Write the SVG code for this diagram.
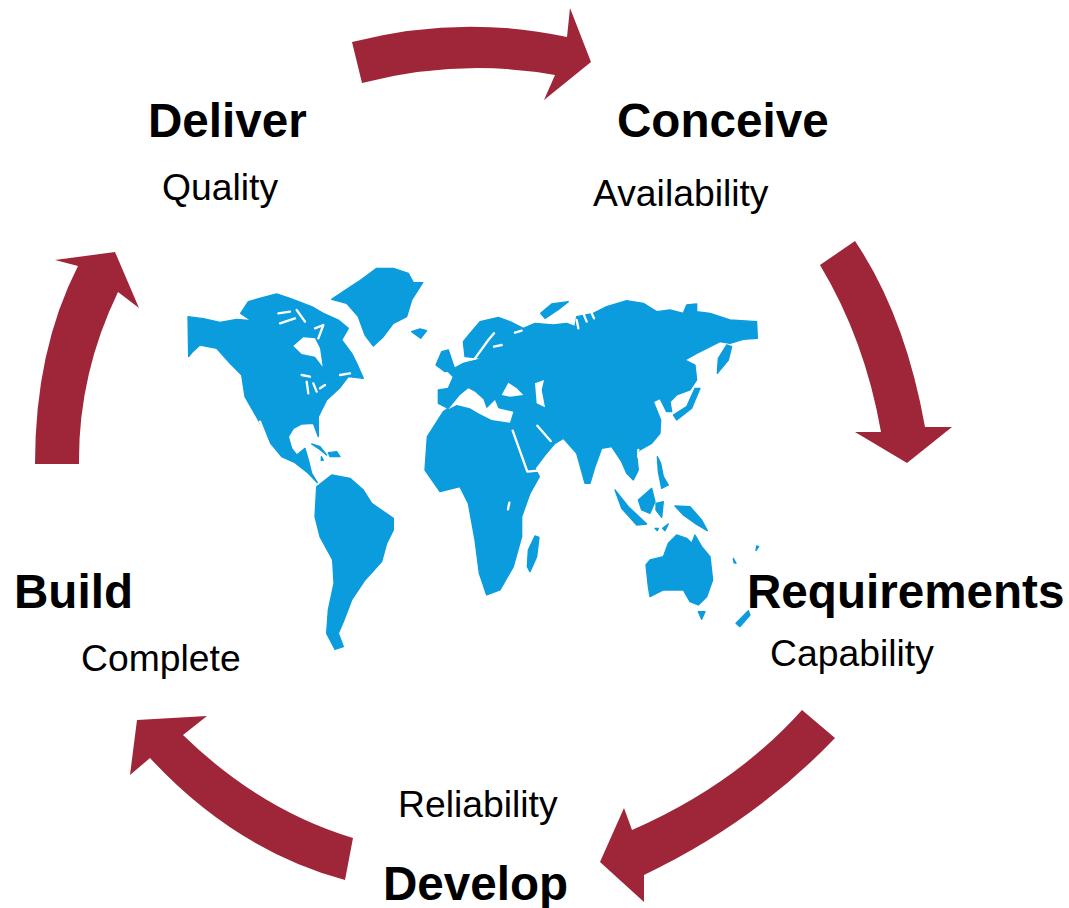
<svg xmlns="http://www.w3.org/2000/svg" width="1069" height="908" viewBox="0 0 1069 908">
<style>
.h{font-family:"Liberation Sans",Arial,sans-serif;font-size:47.6px;font-weight:700;fill:#000}
.s{font-family:"Liberation Sans",Arial,sans-serif;font-size:37.3px;fill:#000}
.a{fill:#9e2638}
.m{fill:#0b9cdd;stroke:#0b9cdd;stroke-width:4;stroke-linejoin:round}
.w{fill:#fff}
.l{fill:none;stroke:#fff;stroke-width:7;stroke-linecap:round;stroke-linejoin:round}
</style>
<rect width="1069" height="908" fill="#fff"/>
<g id="map">
<g transform="translate(180 260) scale(.33333)">
<path class="m" d="M24 170L70 176L120 187L170 178L215 182L182 160L205 125L250 112L290 102L330 115L395 140L430 160L475 180L505 205L485 240L515 280L530 310L550 355L505 350L478 385L440 420L415 470L415 530L400 490L365 492L340 505L325 530L335 565L350 585L375 565L385 600L395 640L412 668L385 640L345 608L305 590L272 550L235 480L195 410L185 345L150 310L110 265L60 255L38 275L26 290Z"/>
<path class="w" d="M340 258L370 232L405 235L420 265L428 320L405 290L365 282Z"/>
<path class="l" d="M295 160L330 155M300 190L345 175M350 150L375 185M405 205L430 195L415 235M365 345L390 350M380 365L385 400M400 370L410 395M420 385L435 375M480 345L510 340"/>
<path class="l" d="M240 485L265 548"/>
<path class="m" d="M455 118L500 88L535 65L590 25L640 25L685 40L700 68L728 68L695 120L680 170L640 190L610 230L580 258L555 225L535 170L500 130Z"/>
<path class="m" d="M695 215L720 207L740 212L722 235Z"/>
<path class="m" d="M395 552L420 560L440 585L415 565ZM445 578L470 575L480 590L450 590ZM424 590L430 600L424 602Z"/>
<path class="m" d="M410 680L455 645L510 655L550 690L575 730L640 775L640 810L620 850L605 905L555 960L515 1020L490 1085L475 1120L490 1160L465 1168L440 1120L445 1050L462 970L458 900L420 830L405 770Z"/>
</g>
<g transform="translate(420 280) scale(.33333)">
<path class="m" d="M48 255L65 215L85 210L105 270L75 275Z"/>
<path class="m" d="M130 185L150 160L180 125L235 112L270 125L310 145L345 130L400 135L440 130L465 140L470 110L520 100L560 80L620 62L670 70L710 95L750 90L790 100L800 75L830 72L830 95L870 100L930 120L1010 125L1012 175L970 178L930 190L900 185L860 205L830 220L795 240L825 255L830 300L810 330L770 345L750 365L755 395L740 395L720 355L700 365L722 420L720 460L695 490L660 510L650 525L655 570L640 600L620 580L605 545L575 500L545 505L525 560L510 610L495 610L470 520L430 475L405 490L375 525L345 565L358 590L330 640L305 710L305 770L280 860L240 930L200 945L178 880L165 780L145 670L120 620L60 635L15 570L22 470L70 395L85 385L55 370L55 330L85 325L100 290L85 275L130 250L190 235L135 230Z"/>
<path class="w" d="M85 388L120 345L145 325L165 335L190 358L200 385L225 360L235 385L280 395L270 428L215 420L175 400L150 385L110 375Z"/>
<path class="w" d="M245 345L265 308L290 325L310 345L270 350Z"/>
<path class="w" d="M345 310L372 300L365 330L375 382L350 370Z"/>
<path class="l" d="M278 452L322 575L355 572M352 437L392 483M268 668L264 688M165 235L205 180L222 160M285 158L305 152M222 200L245 195M470 120L475 145M490 100L500 125M515 100L522 115"/>
<path class="m" d="M362 100L395 72L445 65L420 85L375 115Z"/>
<path class="m" d="M895 235L920 195L935 200L925 240L892 280Z"/>
<path class="m" d="M760 405L800 380L825 325L840 325L815 385L770 420Z"/>
<path class="m" d="M585 630L625 680L680 732L650 735L605 685Z"/>
<path class="m" d="M655 660L695 625L705 665L690 700L665 690Z"/>
<path class="m" d="M765 678L810 680L845 720L862 752L825 730L790 705Z"/>
<path class="m" d="M712 530L722 550L730 590L745 615L725 625L715 575Z"/>
<path class="m" d="M705 745L715 745L712 752ZM728 745L745 732L735 752ZM708 670L730 665L725 712L708 690Z"/>
<path class="m" d="M678 855L690 840L730 830L745 790L770 765L800 775L815 790L825 765L845 800L870 830L878 900L860 950L835 975L810 965L790 930L730 930L690 950L685 920Z"/>
<path class="m" d="M835 995L855 995L845 1018Z"/>
<path class="m" d="M948 1030L985 992L990 1005L960 1040Z"/>
<path class="m" d="M325 810L345 768L357 772L350 830L330 875L322 860Z"/>
<path class="m" d="M940 835L948 850L942 848ZM1010 798L1016 800L1008 812Z"/>
<path class="l" d="M655 510L655 530M712 480L708 510"/>
</g>
</g>
<g id="connectors">
<path class="a" d="M352 42Q460 14 567 37L570 8L591 62L544 100L555 75Q460 58 362 83Z"/>
<path class="a" d="M855 241Q905 315 925 427L952 427L907 463L855 432L881 432Q865 340 820 265Z"/>
<path class="a" d="M835 738Q755 822 644 875L644 902L600 862L624 808L632 830Q735 785 802 710Z"/>
<path class="a" d="M345 880Q235 850 150 758L130 775L137 720L207 716L183 735Q260 810 353 838Z"/>
<path class="a" d="M35 464Q35 350 78 266L55 260L115 252L139 308L118 292Q78 375 79 464Z"/>
</g>
<g id="deliver"><text class="h" x="148" y="137">Deliver</text><text class="s" x="162" y="200">Quality</text></g>
<g id="conceive"><text class="h" x="617" y="137">Conceive</text><text class="s" x="593" y="206">Availability</text></g>
<g id="requirements"><text class="h" x="747" y="608">Requirements</text><text class="s" x="770" y="666">Capability</text></g>
<g id="develop"><text class="s" x="398" y="817">Reliability</text><text class="h" x="383" y="900">Develop</text></g>
<g id="build"><text class="h" x="14" y="608">Build</text><text class="s" x="81" y="671">Complete</text></g>
</svg>
